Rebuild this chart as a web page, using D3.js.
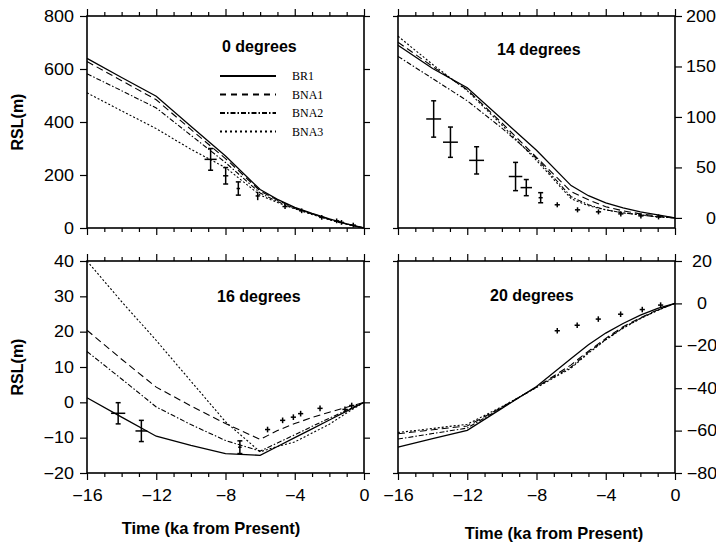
<!DOCTYPE html>
<html>
<head>
<meta charset="utf-8">
<script src="https://cdn.jsdelivr.net/npm/d3@7"></script>
<style>
  body { margin: 0; background: #fff; }
  svg text { font-family: "Liberation Sans", Arial, sans-serif; fill: #000; }
</style>
</head>
<body>
<svg id="chart" width="716" height="542"></svg>
<script>
// model output times (ka)
const modelTime = [-16, -14, -12, -10, -8, -6, -5, -4, -3, -2, -1, 0];
const seriesNames = ["BR1", "BNA1", "BNA2", "BNA3"];
const xMajor = [-16, -12, -8, -4, 0];

// 0 degrees
const br1Deg0 = [640, 568, 497, 384, 272, 145, 108, 78, 55, 34, 16, 0];
const bna1Deg0 = [628, 556, 484, 372, 262, 140, 105, 76, 54, 33, 15, 0];
const bna2Deg0 = [582, 518, 453, 350, 247, 132, 100, 74, 53, 32, 15, 0];
const bna3Deg0 = [510, 442, 375, 297, 228, 124, 96, 72, 51, 31, 14, 0];
const obsTimeDeg0 = [-8.86, -7.99, -7.26, -6.14, -4.56, -3.6, -2.44, -1.58, -1.3, -0.62];
const obsRslDeg0 = [259, 197, 149, 121, 81, 65, 40, 27, 21, 11];
const obsRslErrDeg0 = [41, 31, 25, 16, 9, 9, 9, 9, 9, 9];
const obsTimeErrDeg0 = [0.35, 0.15, 0.1, 0.12, 0.15, 0.15, 0.15, 0.15, 0.15, 0.15];

// 14 degrees
const br1Deg14 = [171, 148, 129, 98, 67, 32, 22, 15, 10, 6, 3, 0];
const bna1Deg14 = [174, 150, 127, 94, 60, 26, 18, 11, 7, 4, 2, 0];
const bna2Deg14 = [160, 138, 116, 89, 59, 21, 13, 8, 5, 3, 1, 0];
const bna3Deg14 = [180, 152, 126, 92, 57, 19, 12, 8, 5, 3, 1, 0];
const obsTimeDeg14 = [-13.94, -12.97, -11.46, -9.21, -8.59, -7.76, -6.8, -5.63, -4.42, -3.13, -1.97, -0.95];
const obsRslDeg14 = [98, 75, 57, 41, 30, 20, 13, 8, 6, 4, 2, 1];
const obsRslErrDeg14 = [18, 15, 13.5, 14, 8, 5, 2.5, 2.5, 2.5, 2.5, 2.5, 2.5];
const obsTimeErrDeg14 = [0.43, 0.43, 0.43, 0.39, 0.33, 0.12, 0.15, 0.15, 0.15, 0.15, 0.15, 0.15];

// 16 degrees
const br1Deg16 = [1.3, -4.2, -9.6, -12.2, -14.5, -15, -12.5, -10, -7.5, -5, -2.5, 0];
const bna1Deg16 = [20.4, 12.2, 4.3, -1, -6, -10.5, -8, -6, -4.3, -2.8, -1.4, 0];
const bna2Deg16 = [14.4, 6.6, -1.3, -6.3, -10.8, -13.8, -11.5, -9.2, -6.8, -4.5, -2.2, 0];
const bna3Deg16 = [40, 28.5, 17.5, 6, -5.5, -14, -12.5, -11.2, -8.7, -6.2, -3, 0];
const obsTimeDeg16 = [-14.2, -12.86, -7.17, -5.57, -4.7, -4.08, -3.66, -2.54, -1.1, -0.71];
const obsRslDeg16 = [-3.1, -8.1, -12.7, -7.7, -5.1, -4.2, -3.2, -1.7, -2, -0.9];
const obsRslErrDeg16 = [3, 3, 1.8, 0.8, 0.8, 0.8, 0.8, 0.8, 0.8, 0.8];
const obsTimeErrDeg16 = [0.41, 0.34, 0.1, 0.15, 0.15, 0.15, 0.15, 0.15, 0.15, 0.15];

// 20 degrees
const br1Deg20 = [-67.8, -63.8, -59.9, -49.5, -39.2, -26, -19.5, -14, -9.5, -5.5, -2.4, 0];
const bna1Deg20 = [-61.5, -59.6, -57.8, -49, -39.5, -29, -22.5, -16.5, -11, -6.8, -3, 0];
const bna2Deg20 = [-64, -61.4, -58.8, -49.2, -39.5, -30, -23, -17, -11.5, -7, -3.2, 0];
const bna3Deg20 = [-60.9, -59, -57, -48.7, -39.7, -30.5, -23.5, -17.2, -11.7, -7.2, -3.3, 0];
const obsTimeDeg20 = [-6.8, -5.65, -4.43, -3.14, -1.89, -0.83];
const obsRslDeg20 = [-12.9, -10.3, -7.4, -5.1, -2.9, -0.8];
const obsRslErrDeg20 = [1.3, 1.3, 1.3, 1.3, 1.3, 1.3];
const obsTimeErrDeg20 = [0.15, 0.15, 0.15, 0.15, 0.15, 0.15];

const dashes = [null, "7,4", "5,2,1.5,2", "2,2"];

const panels = [
  { title: "0 degrees", left: 87, top: 16, yDomain: [0, 800], yTicks: [0, 200, 400, 600, 800], side: "left",
    titleX: 135, titleY: 36, models: [br1Deg0, bna1Deg0, bna2Deg0, bna3Deg0],
    obs: [obsTimeDeg0, obsRslDeg0, obsTimeErrDeg0, obsRslErrDeg0], xLabels: false, legend: true },
  { title: "14 degrees", left: 398, top: 16, yDomain: [-10, 200], yTicks: [0, 50, 100, 150, 200], side: "right",
    titleX: 99, titleY: 39, models: [br1Deg14, bna1Deg14, bna2Deg14, bna3Deg14],
    obs: [obsTimeDeg14, obsRslDeg14, obsTimeErrDeg14, obsRslErrDeg14], xLabels: false, labelAnchor: "end", labelX: 41 },
  { title: "16 degrees", left: 87, top: 261, yDomain: [-20, 40], yTicks: [-20, -10, 0, 10, 20, 30, 40], side: "left",
    titleX: 130, titleY: 41, models: [br1Deg16, bna1Deg16, bna2Deg16, bna3Deg16],
    obs: [obsTimeDeg16, obsRslDeg16, obsTimeErrDeg16, obsRslErrDeg16], xLabels: true },
  { title: "20 degrees", left: 398, top: 261, yDomain: [-80, 20], yTicks: [-80, -60, -40, -20, 0, 20], side: "right",
    titleX: 92, titleY: 40, models: [br1Deg20, bna1Deg20, bna2Deg20, bna3Deg20],
    obs: [obsTimeDeg20, obsRslDeg20, obsTimeErrDeg20, obsRslErrDeg20], xLabels: true, labelAnchor: "middle", labelX: 27 }
];

const W = 277;
const H = 212;
const svg = d3.select("#chart");

function styleAxis(sel) {
  sel.select(".domain").remove();
  sel.selectAll(".tick line").attr("stroke", "#000").attr("stroke-width", 1.2);
  sel.selectAll(".tick text").attr("font-size", 16).attr("font-family", "Liberation Sans, Arial, sans-serif");
}

panels.forEach((p) => {
  const g = svg.append("g").attr("transform", `translate(${p.left},${p.top})`);
  const x = d3.scaleLinear().domain([-16, 0]).range([0, W]);
  const y = d3.scaleLinear().domain(p.yDomain).range([H, 0]);

  // model curves
  const line = d3.line().x((d, i) => x(modelTime[i])).y((d) => y(d));
  p.models.forEach((vals, k) => {
    g.append("path")
      .datum(vals)
      .attr("d", line)
      .attr("fill", "none")
      .attr("stroke", "#000")
      .attr("stroke-width", k === 0 ? 1.3 : 1.1)
      .attr("stroke-dasharray", dashes[k]);
  });

  // observations with error bars
  const [ot, ov, ote, ove] = p.obs;
  const pts = ot.map((t, i) => ({ t: t, v: ov[i], te: ote[i], ve: ove[i] }));
  const cross = g.selectAll(".obs").data(pts).enter().append("g").attr("class", "obs")
    .attr("stroke", "#000").attr("stroke-width", 1.5);
  cross.append("line")
    .attr("x1", (d) => x(d.t - d.te)).attr("x2", (d) => x(d.t + d.te))
    .attr("y1", (d) => y(d.v)).attr("y2", (d) => y(d.v));
  cross.append("line")
    .attr("x1", (d) => x(d.t)).attr("x2", (d) => x(d.t))
    .attr("y1", (d) => y(d.v - d.ve)).attr("y2", (d) => y(d.v + d.ve));
  [-1, 1].forEach((s) => {
    cross.filter((d) => Math.abs(y(d.v) - y(d.v + d.ve)) > 5).append("line")
      .attr("x1", (d) => x(d.t) - 2.5).attr("x2", (d) => x(d.t) + 2.5)
      .attr("y1", (d) => y(d.v + s * d.ve)).attr("y2", (d) => y(d.v + s * d.ve));
  });

  // x axes, top and bottom, with minor ticks
  const minor = d3.range(-16, 1, 1).filter((v) => !xMajor.includes(v));
  g.append("g").call(d3.axisTop(x).tickValues(minor).tickSize(4).tickFormat("")).call(styleAxis);
  g.append("g").call(d3.axisTop(x).tickValues(xMajor).tickSize(7).tickFormat("")).call(styleAxis);
  g.append("g").attr("transform", `translate(0,${H})`)
    .call(d3.axisBottom(x).tickValues(minor).tickSize(4).tickFormat("")).call(styleAxis);
  g.append("g").attr("transform", `translate(0,${H})`)
    .call(d3.axisBottom(x).tickValues(xMajor).tickSize(7).tickPadding(10)
      .tickFormat(p.xLabels ? d3.format("d") : "")).call(styleAxis);

  // y axes
  if (p.side === "left") {
    g.append("g").call(d3.axisLeft(y).tickValues(p.yTicks).tickSize(7).tickPadding(6)).call(styleAxis);
    g.append("g").attr("transform", `translate(${W},0)`)
      .call(d3.axisRight(y).tickValues(p.yTicks).tickSize(6).tickFormat("")).call(styleAxis);
  } else {
    g.append("g").call(d3.axisLeft(y).tickValues(p.yDomain).tickSize(5).tickFormat("")).call(styleAxis);
    const ax = g.append("g").attr("transform", `translate(${W},0)`)
      .call(d3.axisRight(y).tickValues(p.yTicks).tickSize(7)).call(styleAxis);
    ax.selectAll(".tick text").attr("text-anchor", p.labelAnchor).attr("x", p.labelX);
  }

  // frame
  g.append("rect").attr("width", W).attr("height", H)
    .attr("fill", "none").attr("stroke", "#000").attr("stroke-width", 1.6);

  // panel title
  g.append("text").attr("x", p.titleX).attr("y", p.titleY)
    .attr("font-size", 16).attr("font-weight", "bold").text(p.title);

  if (p.legend) {
    const lg = g.selectAll(".legend").data(seriesNames).enter().append("g")
      .attr("transform", (d, i) => `translate(133,${60 + i * 18.5})`);
    lg.append("line").attr("x1", 0).attr("x2", 56)
      .attr("stroke", "#000").attr("stroke-width", 1.8)
      .attr("stroke-dasharray", (d, i) => i === 1 ? "6,5" : i === 2 ? "5,2,1.5,2" : i === 3 ? "2,3" : null);
    lg.append("text").attr("x", 72).attr("y", 4)
      .attr("font-size", 12).style("font-family", "Liberation Serif, Times New Roman, serif")
      .text((d) => d);
  }
});

// the printed tick numerals are a little wider than Liberation Sans
svg.selectAll(".tick text").each(function () {
  const w = this.getComputedTextLength();
  if (w > 0) d3.select(this).attr("textLength", w * 1.12).attr("lengthAdjust", "spacingAndGlyphs");
});

// axis titles
[122, 367].forEach((cy) => {
  svg.append("text").attr("transform", `translate(23,${cy}) rotate(-90)`)
    .attr("text-anchor", "middle").attr("font-size", 16).attr("font-weight", "bold").text("RSL(m)");
});
[[211, 534], [554, 539]].forEach(([cx, cy]) => {
  svg.append("text").attr("x", cx).attr("y", cy)
    .attr("text-anchor", "middle").attr("font-size", 16.5).attr("font-weight", "bold")
    .text("Time (ka from Present)");
});
</script>
</body>
</html>
